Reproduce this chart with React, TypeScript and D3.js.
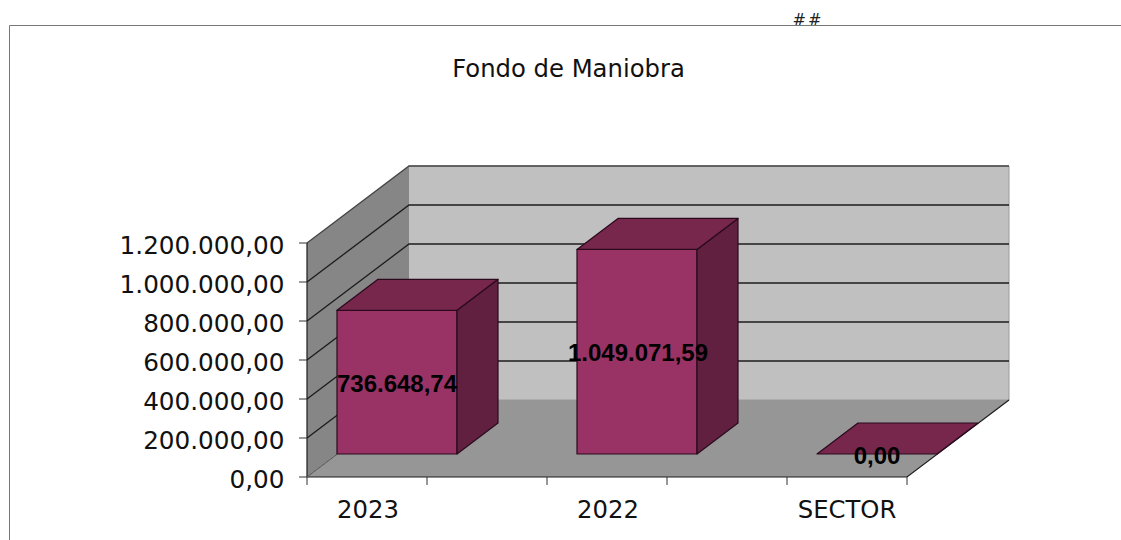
import React from 'react';
import * as d3 from 'd3';

const categories = ['2023', '2022', 'SECTOR'];
const values = [736648.74, 1049071.59, 0];
const valueLabels = ['736.648,74', '1.049.071,59', '0,00'];
const yTicks = [0, 200000, 400000, 600000, 800000, 1000000, 1200000];
const yTickLabels = ['0,00', '200.000,00', '400.000,00', '600.000,00', '800.000,00', '1.000.000,00', '1.200.000,00'];

const width = 1121;
const height = 540;
const left = 307;
const right = 907;
const bottom = 477;
const top = 243;
// oblique offset of the back wall, and of the bars inside the box
const depth = { x: 102, y: -77 };
const barShift = { x: 30, y: -23 };
const barDepth = { x: 41, y: -31 };

const line = '#1c1c1c';
const barLine = '#2a0a1c';
const mono = '"DejaVu Sans", sans-serif';
const arial = '"Liberation Sans", Arial, sans-serif';

const App = () => {
  const x = d3.scaleBand<string>()
    .domain(categories)
    .range([left, right])
    .paddingInner(0.5)
    .paddingOuter(0);
  const y = d3.scaleLinear().domain([0, 1200000]).range([bottom, top]);
  const poly = d3.line();

  const tickXs = categories.flatMap(c => [x(c)!, x(c)! + x.bandwidth()]);

  return (
    <svg width={width} height={height} style={{ position: 'absolute', left: 0, top: 0, background: '#fff' }}>
      {/* frame */}
      <path d={`M9.5,${height}V25.5H${width}`} fill="none" stroke="#777" strokeWidth={1} />
      <text x={808} y={25} textAnchor="middle" fontFamily={mono} fontStyle="italic" fontSize={16} letterSpacing={2} fill="#222">##</text>
      <text x={568.5} y={77} textAnchor="middle" fontFamily={mono} fontSize={24.3} fill="#111">Fondo de Maniobra</text>

      {/* walls and floor */}
      <path
        d={poly([[left, y(1200000)], [left + depth.x, y(1200000) + depth.y], [left + depth.x, bottom + depth.y], [left, bottom]])!}
        fill="#868686"
      />
      <path
        d={poly([[left + depth.x, y(1200000) + depth.y], [right + depth.x, y(1200000) + depth.y], [right + depth.x, bottom + depth.y], [left + depth.x, bottom + depth.y]])!}
        fill="#c0c0c0"
        stroke="#9a9a9a"
      />
      <path
        d={poly([[left, bottom], [left + depth.x, bottom + depth.y], [right + depth.x, bottom + depth.y], [right, bottom]])!}
        fill="#969696"
      />

      {/* gridlines */}
      {yTicks.filter(t => t > 0).map(t => (
        <path
          key={t}
          d={`M${left},${y(t)}L${left + depth.x},${y(t) + depth.y}H${right + depth.x}`}
          fill="none"
          stroke={t === 1200000 ? '#444' : line}
          strokeWidth={1.3}
        />
      ))}

      {/* axes */}
      <path d={`M${left},${top}V${bottom}`} stroke={line} strokeWidth={1.2} />
      <path d={`M${left},${bottom}H${right}L${right + depth.x},${bottom + depth.y}`} fill="none" stroke={line} strokeWidth={1.2} />
      <path d={`M${left},${bottom}L${left + depth.x},${bottom + depth.y}`} stroke="#555" strokeWidth={1} />
      {yTicks.map((t, i) => (
        <g key={t}>
          <line x1={left - 8} x2={left} y1={y(t)} y2={y(t)} stroke="#333" />
          <text x={284.5} y={y(t) + 10.5} textAnchor="end" fontFamily={mono} fontSize={24.7} fill="#111">{yTickLabels[i]}</text>
        </g>
      ))}
      {tickXs.map(tx => (
        <line key={tx} x1={tx} x2={tx} y1={bottom} y2={bottom + 8} stroke="#333" />
      ))}
      {categories.map(c => (
        <text key={c} x={x(c)! + x.bandwidth() / 2 + (c === 'SECTOR' ? 0 : 1)} y={518} textAnchor="middle" fontFamily={mono} fontSize={24.3} fill="#111">{c}</text>
      ))}

      {/* bars */}
      {categories.map((c, i) => {
        const x0 = x(c)! + barShift.x;
        const x1 = x0 + x.bandwidth();
        const yBase = bottom + barShift.y;
        const yTop = yBase - (bottom - y(values[i]));
        const dx = barDepth.x;
        const dy = barDepth.y;
        return (
          <g key={c} stroke={barLine} strokeWidth={1.2} strokeLinejoin="round">
            {values[i] > 0 && (
              <>
                <path d={poly([[x0, yBase], [x1, yBase], [x1, yTop], [x0, yTop]])! + 'Z'} fill="#993366" />
                <path d={poly([[x1, yBase], [x1 + dx, yBase + dy], [x1 + dx, yTop + dy], [x1, yTop]])! + 'Z'} fill="#61203f" />
              </>
            )}
            <path d={poly([[x0, yTop], [x1, yTop], [x1 + dx, yTop + dy], [x0 + dx, yTop + dy]])! + 'Z'} fill="#77264c" />
          </g>
        );
      })}

      {/* data labels */}
      {categories.map((c, i) => {
        const yBase = bottom + barShift.y;
        const h = bottom - y(values[i]);
        return (
          <text
            key={c}
            x={x(c)! + barShift.x + x.bandwidth() / 2 + (i === 1 ? 1 : 0)}
            y={yBase - h / 2 + 9.5}
            textAnchor="middle"
            fontFamily={arial}
            fontWeight="bold"
            fontSize={24}
            fill="#000"
          >
            {valueLabels[i]}
          </text>
        );
      })}
    </svg>
  );
};

export default App;
